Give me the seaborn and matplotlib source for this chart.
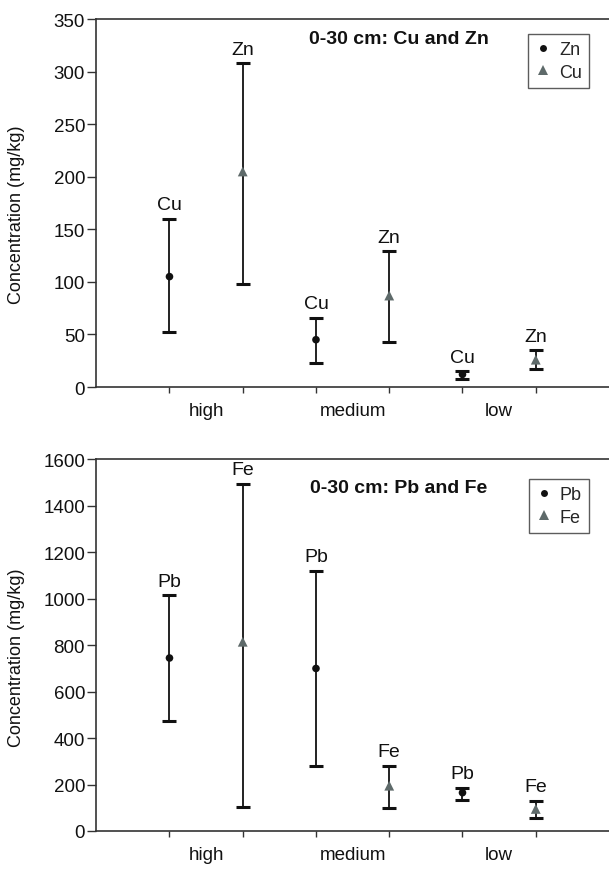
import seaborn as sns
import matplotlib.pyplot as plt
from matplotlib.lines import Line2D
import pandas as pd
import numpy as np

sns.set_style('white')
plt.rcParams['font.family'] = ['Liberation Sans', 'DejaVu Sans']

categories = ['high', 'medium', 'low']

# top panel: Cu and Zn
top_metals = ['Cu', 'Zn']
top_mean = {'Cu': [105, 45, 12], 'Zn': [205, 87, 26]}
top_low = {'Cu': [52, 23, 8], 'Zn': [98, 43, 17]}
top_high = {'Cu': [160, 66, 15], 'Zn': [308, 129, 35]}
top_legend = ['Zn', 'Cu']

# bottom panel: Pb and Fe
bot_metals = ['Pb', 'Fe']
bot_mean = {'Pb': [745, 700, 165], 'Fe': [815, 195, 95]}
bot_low = {'Pb': [475, 280, 135], 'Fe': [105, 100, 58]}
bot_high = {'Pb': [1015, 1120, 185], 'Fe': [1495, 280, 130]}
bot_legend = ['Pb', 'Fe']

marker_styles = ['o', '^']
marker_colors = ['#111111', '#5e6a6a']
marker_sizes = [5, 7]

FS = 13.5


def make_df(metals, mean, low, high):
    rows = []
    for i, cat in enumerate(categories):
        for j, m in enumerate(metals):
            rows.append({'pos': 2 * i + j, 'metal': m, 'level': cat,
                         'mean': mean[m][i], 'low': low[m][i], 'high': high[m][i]})
    return pd.DataFrame(rows)


def draw_panel(ax, df, metals, legend_names, title, title_y, leg_y, ymax, ystep):
    for j, m in enumerate(metals):
        d = df[df.metal == m]
        ax.errorbar(d['pos'], d['mean'],
                    yerr=[d['mean'] - d['low'], d['high'] - d['mean']],
                    fmt='none', ecolor='#111111', elinewidth=1.3,
                    capsize=4.8, capthick=2.2, zorder=2)
    sns.scatterplot(data=df, x='pos', y='mean', hue='metal', style='metal',
                    hue_order=metals, style_order=metals,
                    palette=dict(zip(metals, marker_colors)),
                    markers=dict(zip(metals, marker_styles)),
                    size='metal', sizes=dict(zip(metals, [30, 50])),
                    edgecolor='none', legend=False, ax=ax, zorder=3)
    for _, r in df.iterrows():
        ax.annotate(r['metal'], (r['pos'], r['high']), xytext=(0, 4),
                    textcoords='offset points', ha='center', va='bottom',
                    fontsize=14, color='#111111')

    ax.set_xlim(-1, 6)
    ax.set_ylim(0, ymax)
    ax.set_yticks(np.arange(0, ymax + 1, ystep))
    ax.set_xticks(range(6))
    ax.set_xticklabels([])
    ax.set_xticks([0.5, 2.5, 4.5], minor=True)
    ax.set_xticklabels(categories, minor=True)
    ax.tick_params(axis='x', which='major', direction='out', length=4,
                   width=1, color='#333333', bottom=True)
    ax.tick_params(axis='x', which='minor', length=0, pad=11, labelsize=FS,
                   labelcolor='#111111')
    ax.tick_params(axis='y', direction='out', length=6.5, width=1, pad=1.5,
                   color='#333333', left=True, labelsize=FS, labelcolor='#111111')
    ax.set_xlabel('')
    ax.set_ylabel('Concentration (mg/kg)', fontsize=13, color='#111111')
    ax.yaxis.set_label_coords(-0.138, 0.47)
    for s in ['left', 'top', 'bottom']:
        ax.spines[s].set_color('#333333')
        ax.spines[s].set_linewidth(1.2)
    ax.spines['right'].set_visible(False)

    ax.text(0.59, title_y, title, transform=ax.transAxes, ha='center', va='center',
            fontsize=14, fontweight='bold', color='#111111')

    handles = [Line2D([], [], linestyle='none', marker=marker_styles[k],
                      color=marker_colors[k], markersize=marker_sizes[k],
                      markeredgewidth=0, label=legend_names[k]) for k in range(2)]
    leg = ax.legend(handles=handles, loc='upper right', bbox_to_anchor=(0.961, leg_y),
                    borderaxespad=0, frameon=True, fancybox=False, fontsize=13,
                    handlelength=0.8, handletextpad=0.5, borderpad=0.4,
                    labelspacing=0.3)
    leg.get_frame().set_edgecolor('#333333')
    leg.get_frame().set_linewidth(1.0)


fig = plt.figure(figsize=(6.09, 8.7), dpi=100)
ax1 = fig.add_axes([0.158, 0.554, 0.842, 0.423])
ax2 = fig.add_axes([0.158, 0.0437, 0.842, 0.427])

top_df = make_df(top_metals, top_mean, top_low, top_high)
bot_df = make_df(bot_metals, bot_mean, bot_low, bot_high)

draw_panel(ax1, top_df, top_metals, top_legend, '0-30 cm: Cu and Zn', 0.946, 0.959, 350, 50)
draw_panel(ax2, bot_df, bot_metals, bot_legend, '0-30 cm: Pb and Fe', 0.925, 0.947, 1600, 200)

fig.savefig('out.png', dpi=100)
